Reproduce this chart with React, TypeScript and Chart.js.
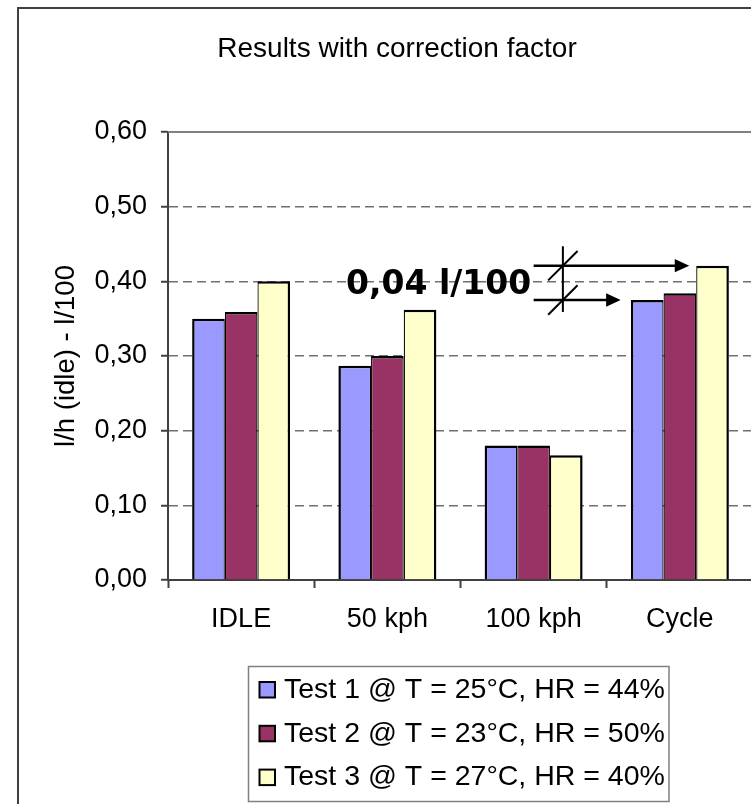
import { useEffect, useRef } from 'react';
import { Chart, registerables } from 'chart.js';

Chart.register(...registerables);

const categories = ['IDLE', '50 kph', '100 kph', 'Cycle'];
const seriesLabels = [
  'Test 1 @ T = 25°C, HR = 44%',
  'Test 2 @ T = 23°C, HR = 50%',
  'Test 3 @ T = 27°C, HR = 40%',
];
const test1 = [0.35, 0.287, 0.18, 0.375];
const test2 = [0.359, 0.3, 0.18, 0.384];
const test3 = [0.4, 0.362, 0.167, 0.421];
const seriesColors = ['#9999FF', '#993366', '#FFFFCC'];
const yTickLabels = ['0,00', '0,10', '0,20', '0,30', '0,40', '0,50', '0,60'];
const chartTitle = 'Results with correction factor';
const yAxisTitle = 'l/h (idle) - l/100';
const annotationText = '0,04 l/100';

// annotation anchors in data units (category index / value)
const annot = {
  textX: 0.717,
  textY: 0.394,
  lineStartX: 2.0,
  crossX: 2.2,
  upperY: test3[3],
  lowerY: test1[3],
  upperTipX: 3.064,
  lowerTipX: 2.595,
  crossTop: 0.447,
  crossBottom: 0.359,
};

const FONT = "'Liberation Sans', Arial, sans-serif";

const barBorders = [
  { left: 2.5, top: 2.5, right: 1.25, bottom: 0 },
  { left: 1.25, top: 2.5, right: 1.25, bottom: 0 },
  { left: 1.25, top: 2.5, right: 2.5, bottom: 0 },
];

const decor = {
  id: 'decor',
  beforeDraw(chart: any) {
    const { ctx } = chart;
    ctx.save();
    ctx.fillStyle = '#ffffff';
    ctx.fillRect(0, 0, chart.width, chart.height);
    ctx.strokeStyle = '#404040';
    ctx.lineWidth = 2;
    ctx.beginPath();
    ctx.moveTo(18, chart.height);
    ctx.lineTo(18, 8);
    ctx.lineTo(chart.width, 8);
    ctx.stroke();
    ctx.restore();
  },
  afterDraw(chart: any) {
    const { ctx, chartArea } = chart;
    const xs = chart.scales.x;
    const ys = chart.scales.y;
    ctx.save();
    // top border of plot area
    ctx.strokeStyle = '#808080';
    ctx.lineWidth = 2;
    ctx.beginPath();
    ctx.moveTo(chartArea.left, chartArea.top);
    ctx.lineTo(chartArea.right + 10, chartArea.top);
    ctx.stroke();

    // title
    ctx.fillStyle = '#000';
    ctx.font = `28px ${FONT}`;
    ctx.textAlign = 'center';
    ctx.textBaseline = 'middle';
    ctx.fillText(chartTitle, 397, 49);

    // annotation text
    ctx.font = `bold 33px 'DejaVu Sans', Verdana, sans-serif`;
    ctx.textAlign = 'left';
    ctx.fillText(annotationText, xs.getPixelForValue(annot.textX), ys.getPixelForValue(annot.textY));

    // arrows
    ctx.strokeStyle = '#000';
    ctx.fillStyle = '#000';
    const arrow = (x0: number, x1: number, y: number) => {
      ctx.lineWidth = 2.5;
      ctx.beginPath();
      ctx.moveTo(x0, y);
      ctx.lineTo(x1 - 12, y);
      ctx.stroke();
      ctx.beginPath();
      ctx.moveTo(x1, y);
      ctx.lineTo(x1 - 14.5, y - 6.7);
      ctx.lineTo(x1 - 14.5, y + 6.7);
      ctx.closePath();
      ctx.fill();
    };
    const x0 = xs.getPixelForValue(annot.lineStartX);
    const yu = ys.getPixelForValue(annot.upperY);
    const yl = ys.getPixelForValue(annot.lowerY);
    arrow(x0, xs.getPixelForValue(annot.upperTipX), yu);
    arrow(x0, xs.getPixelForValue(annot.lowerTipX), yl);
    const cx = xs.getPixelForValue(annot.crossX);
    ctx.lineWidth = 2;
    ctx.beginPath();
    ctx.moveTo(cx, ys.getPixelForValue(annot.crossTop));
    ctx.lineTo(cx, ys.getPixelForValue(annot.crossBottom));
    ctx.stroke();
    for (const yy of [yu, yl]) {
      ctx.beginPath();
      ctx.moveTo(cx - 14.7, yy + 14.7);
      ctx.lineTo(cx + 14.7, yy - 14.7);
      ctx.stroke();
    }

    // legend
    const lx = 248.5, ly = 666.5, lw = 420.5, lh = 135;
    ctx.strokeStyle = '#808080';
    ctx.lineWidth = 1.5;
    ctx.strokeRect(lx, ly, lw, lh);
    ctx.font = `28.5px ${FONT}`;
    ctx.textAlign = 'left';
    ctx.textBaseline = 'middle';
    chart.data.datasets.forEach((ds: any, i: number) => {
      const cy = 690 + i * 43.8;
      ctx.fillStyle = ds.backgroundColor;
      ctx.fillRect(259.5, cy - 8, 15.5, 15.5);
      ctx.strokeStyle = '#000';
      ctx.lineWidth = 2;
      ctx.strokeRect(259.5, cy - 8, 15.5, 15.5);
      ctx.fillStyle = '#000';
      ctx.fillText(ds.label, 284, cy);
    });
    ctx.restore();
  },
};

export default function App() {
  const ref = useRef<HTMLCanvasElement>(null);
  useEffect(() => {
    if (!ref.current) return;
    const chart = new Chart(ref.current, {
      type: 'bar',
      data: {
        labels: categories,
        datasets: [test1, test2, test3].map((d, i) => ({
          label: seriesLabels[i],
          data: d,
          backgroundColor: seriesColors[i],
          borderColor: '#000000',
          borderWidth: barBorders[i],
          borderSkipped: false,
          categoryPercentage: 0.67,
          barPercentage: 1.0,
        })),
      },
      options: {
        responsive: false,
        animation: false,
        devicePixelRatio: 1,
        layout: { padding: { left: 0, right: 47, top: 132, bottom: 0 } },
        plugins: {
          legend: { display: false },
          title: { display: false },
          tooltip: { enabled: false },
        },
        scales: {
          x: {
            offset: true,
            grid: {
              offset: true,
              drawOnChartArea: false,
              drawTicks: true,
              tickLength: 8,
              tickColor: '#404040',
              tickWidth: 2,
            },
            border: { display: true, color: '#404040', width: 2 },
            ticks: { padding: 15, color: '#000', font: { size: 27, family: FONT } },
            afterFit: (s: any) => {
              s.height = 224;
            },
          },
          y: {
            min: 0,
            max: 0.6,
            ticks: {
              stepSize: 0.1,
              padding: 14,
              color: '#000',
              font: { size: 27, family: FONT },
              callback: (_v: any, i: number) => yTickLabels[i],
            },
            grid: {
              color: (c: any) =>
                c.tick && (c.tick.value <= 0.0001 || c.tick.value >= 0.5999) ? 'rgba(0,0,0,0)' : '#707070',
              lineWidth: 1.5,
              tickColor: '#404040',
              tickLength: 7,
              tickWidth: 2,
              tickBorderDash: [],
            },
            border: { display: true, color: '#404040', width: 2, dash: [9, 5] },
            title: {
              display: true,
              text: yAxisTitle,
              color: '#000',
              font: { size: 27.5, family: FONT },
              padding: { top: 50, bottom: 0 },
            },
            afterFit: (s: any) => {
              s.width = 168;
            },
          },
        },
      },
      plugins: [decor],
    });
    return () => chart.destroy();
  }, []);
  return (
    <div style={{ position: 'fixed', left: 0, top: 0, width: 751, height: 804, overflow: 'hidden', background: '#fff' }}>
      <canvas ref={ref} width={800} height={804} style={{ display: 'block', width: 800, height: 804 }} />
    </div>
  );
}
